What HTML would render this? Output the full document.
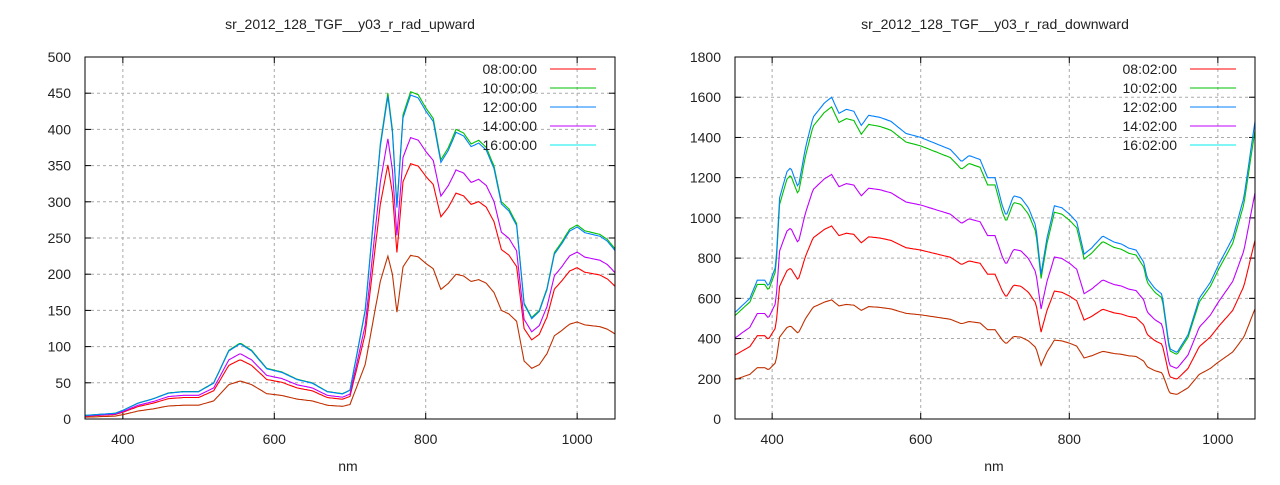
<!DOCTYPE html>
<html><head><meta charset="utf-8"><style>
body{margin:0;background:#fff}
svg text{font-family:"Liberation Sans",sans-serif;font-size:14px;fill:#222}
</style></head><body>
<svg id="s" width="1280" height="480" xmlns="http://www.w3.org/2000/svg">
<text x="350" y="29" text-anchor="middle">sr_2012_128_TGF__y03_r_rad_upward</text>
<text x="995" y="29" text-anchor="middle">sr_2012_128_TGF__y03_r_rad_downward</text>
<text x="348" y="471" text-anchor="middle">nm</text>
<text x="994" y="471" text-anchor="middle">nm</text>
</svg>
<script>
const S=document.getElementById('s'),NS='http://www.w3.org/2000/svg';
function el(t,a,txt){const e=document.createElementNS(NS,t);for(const k in a)e.setAttribute(k,a[k]);if(txt)e.textContent=txt;S.appendChild(e);return e;}
function plot(P){
 const X=v=>P.x0+(v-350)/700*(P.x1-P.x0), Y=v=>P.y1-v/P.ymax*(P.y1-P.y0);
 for(let v=0;v<=P.ymax;v+=P.ystep){const y=Y(v);
  if(v>0&&v<P.ymax)el('line',{x1:P.x0,x2:P.x1,y1:y,y2:y,stroke:'#aaa','stroke-dasharray':'3,3'});
  el('line',{x1:P.x0,x2:P.x0+6,y1:y,y2:y,stroke:'#000'});el('line',{x1:P.x1-6,x2:P.x1,y1:y,y2:y,stroke:'#000'});
  el('text',{x:P.x0-14,y:y+5,'text-anchor':'end'},String(v));}
 for(let v=400;v<=1000;v+=200){const x=X(v);
  el('line',{x1:x,x2:x,y1:P.y0,y2:P.y1,stroke:'#aaa','stroke-dasharray':'3,3'});
  el('line',{x1:x,x2:x,y1:P.y1-6,y2:P.y1,stroke:'#000'});el('line',{x1:x,x2:x,y1:P.y0,y2:P.y0+6,stroke:'#000'});
  el('text',{x:x,y:P.y1+25,'text-anchor':'middle'},String(v));}
 // interpolate keypoints
 const k=P.k;function f(n){for(let i=0;i<k.length-1;i++){if(n>=k[i][0]&&n<=k[i+1][0]){const t=(n-k[i][0])/(k[i+1][0]-k[i][0]);return k[i][1]+t*(k[i+1][1]-k[i][1]);}}return k[k.length-1][1];}
 P.series.forEach(s=>{let pts=[];for(let n=350;n<=1050;n+=2){let v=f(n)*s.f;if(s.g)v=s.g(n,v);pts.push(X(n).toFixed(1)+','+Y(v).toFixed(1));}
  el('polyline',{points:pts.join(' '),fill:'none',stroke:s.c,'stroke-width':1.1});});
 P.labels.forEach((l,i)=>{const y=69+i*19;el('text',{x:P.lx,y:y+5,'text-anchor':'end'},l[0]);el('line',{x1:P.lx+13,x2:P.lx+59,y1:y,y2:y,stroke:l[1]});});
 el('rect',{x:P.x0,y:P.y0,width:P.x1-P.x0,height:P.y1-P.y0,fill:'none',stroke:'#000'});
}
const cols=['#ff0000','#00c000','#0080ff','#c000ff','#00eeee'];
plot({x0:85,x1:615,y0:57,y1:419,ymax:500,ystep:50,lx:537,
 k:[[350,5],[390,8],[400,12],[420,22],[440,28],[460,36],[480,38],[500,38],[520,50],[540,95],[555,105],[570,95],[590,70],[610,65],[630,55],[650,50],[670,38],[690,35],[700,40],[720,150],[740,380],[750,450],[756,400],[762,295],[770,420],[780,452],[790,448],[800,430],[810,415],[820,358],[830,375],[840,400],[850,395],[860,380],[870,385],[880,375],[890,350],[900,300],[910,290],[920,270],[930,160],[940,140],[950,150],[960,180],[970,230],[980,245],[990,262],[1000,268],[1010,260],[1030,255],[1040,248],[1050,235]],
 series:[{c:'#c03000',f:0.5},{c:'#ff0000',f:0.78},{c:'#c000ff',f:0.86},{c:'#00c000',f:1},{c:'#0080ff',f:0.99}],
 labels:[['08:00:00',cols[0]],['10:00:00',cols[1]],['12:00:00',cols[2]],['14:00:00',cols[3]],['16:00:00',cols[4]]]});
plot({x0:735,x1:1255,y0:57,y1:419,ymax:1800,ystep:200,lx:1177,
 k:[[350,530],[370,600],[380,690],[390,690],[395,660],[405,760],[410,1100],[420,1230],[425,1250],[435,1150],[445,1350],[455,1500],[470,1570],[480,1600],[490,1520],[500,1540],[510,1530],[520,1460],[530,1510],[545,1500],[560,1480],[580,1420],[600,1400],[620,1370],[640,1340],[655,1280],[665,1310],[680,1290],[690,1200],[700,1200],[710,1060],[715,1010],[725,1110],[735,1100],[745,1050],[755,960],[762,720],[770,900],[780,1060],[790,1050],[800,1020],[810,980],[820,820],[830,850],[845,910],[860,880],[870,870],[880,850],[890,840],[900,780],[905,700],[915,650],[925,620],[935,350],[945,330],[960,420],[975,600],[990,680],[1000,760],[1020,900],[1035,1100],[1050,1480]],
 series:[{c:'#c03000',f:0.37},{c:'#ff0000',f:0.6},{c:'#c000ff',f:0.76},{c:'#00c000',f:0.97},{c:'#0080ff',f:1}],
 labels:[['08:02:00',cols[0]],['10:02:00',cols[1]],['12:02:00',cols[2]],['14:02:00',cols[3]],['16:02:00',cols[4]]]});
</script>
</body></html>
